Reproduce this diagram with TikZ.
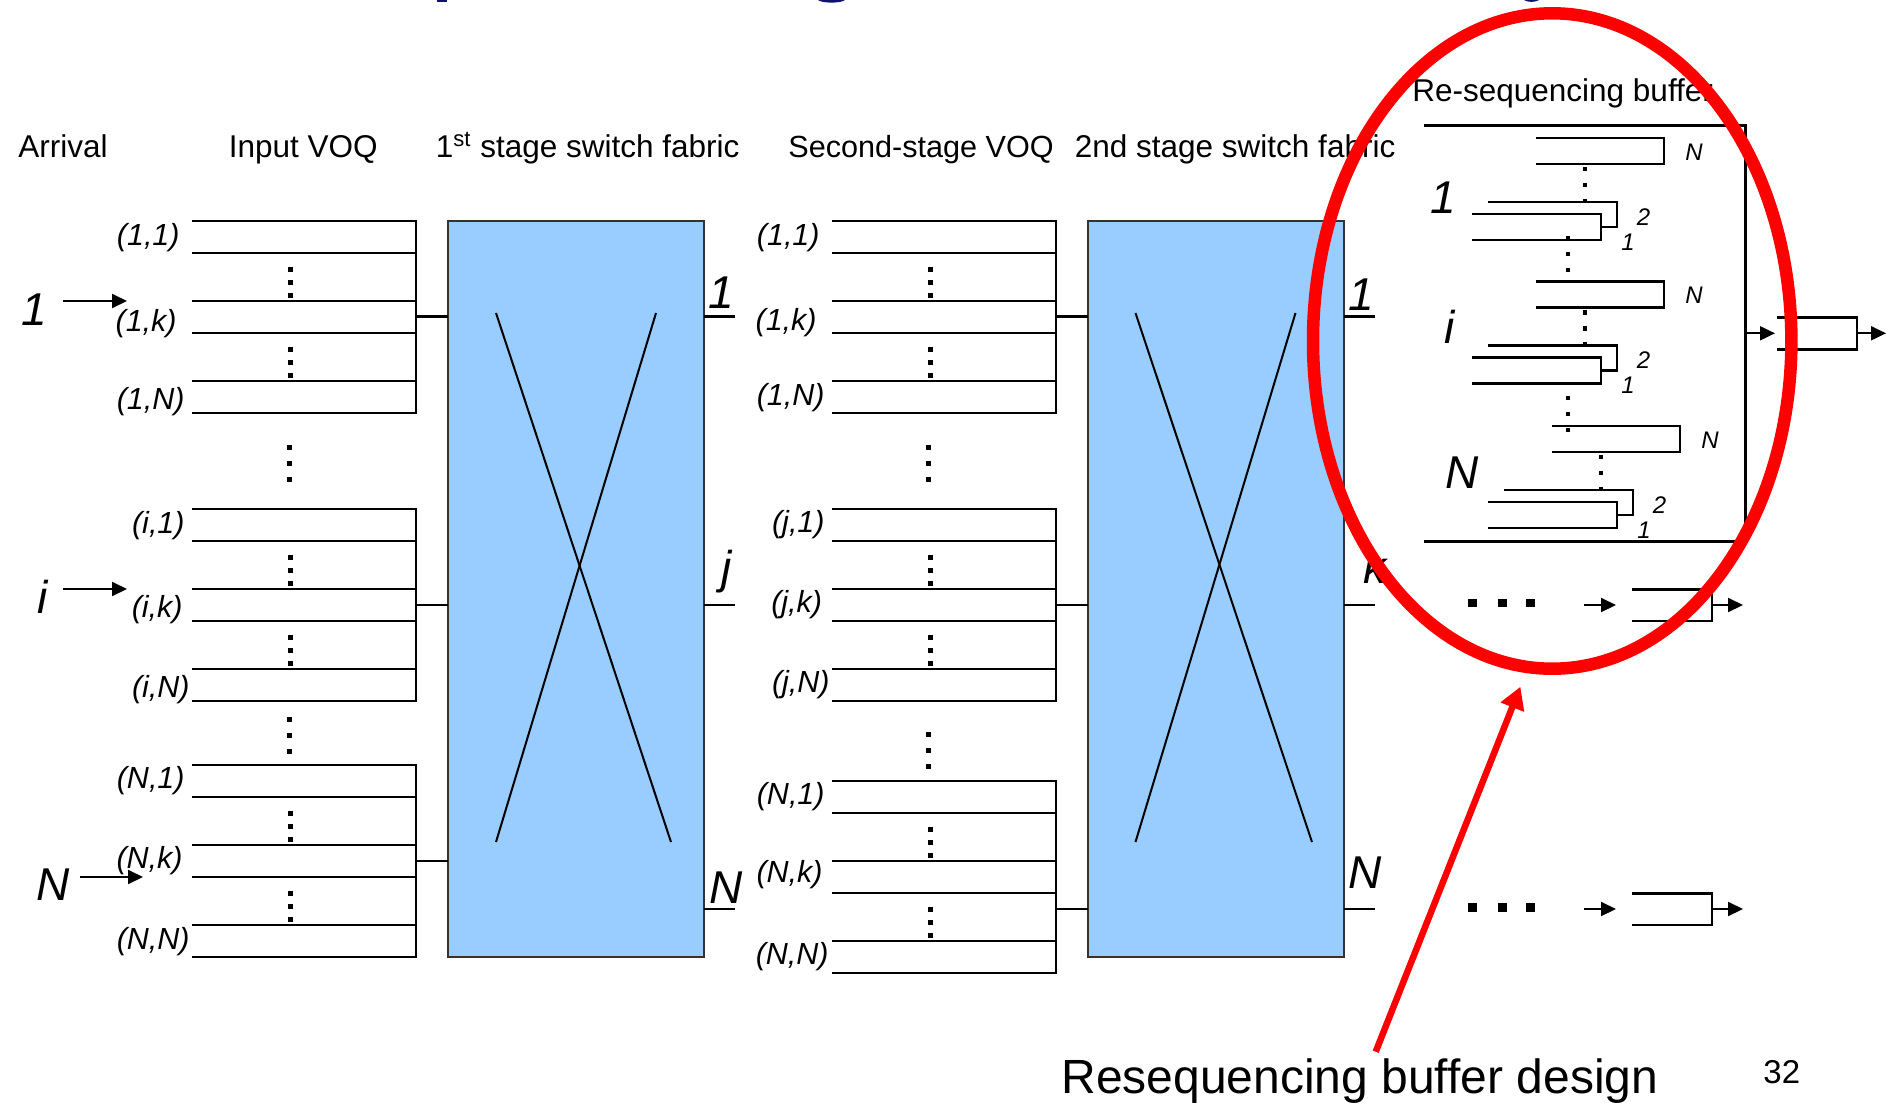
\documentclass[tikz,border=0pt]{standalone}
\usepackage{fontspec}
\setmainfont{Liberation Sans}
\usetikzlibrary{arrows.meta,shapes.geometric}
\definecolor{fabblue}{HTML}{99CCFF}
\definecolor{fabedge}{HTML}{333333}
\definecolor{ringred}{HTML}{FF0000}
\definecolor{titleblue}{HTML}{10106E}
\newcommand\txtsize[1]{\fontsize{#1pt}{#1pt}\selectfont}
% one group of three virtual output queues: left x, right x, three top y's
\newcommand\voqgroup[5]{%
  \draw[q] (#1,#3) -- (#2,#3) -- (#2,#5+32) -- (#1,#5+32);
  \draw[q] (#1,#3+32) -- (#2,#3+32) (#1,#4) -- (#2,#4)
           (#1,#4+32) -- (#2,#4+32) (#1,#5) -- (#2,#5);}
% small square dot: x, y, half size
\newcommand\sqdot[3]{\fill (#1-#3,#2-#3) rectangle (#1+#3,#2+#3);}
% three dots in a column
\newcommand\dotcol[4]{\sqdot{#1}{#2}{2.5}\sqdot{#1}{#3}{2.5}\sqdot{#1}{#4}{2.5}}
% one input group of the re-sequencing buffer, shifted by (dx,dy)
\newcommand\bufgroup[3]{%
  \draw[bq] (1536+#1,138+#2) -- (1664+#1,138+#2) -- (1664+#1,164+#2) -- (1536+#1,164+#2);
  \draw[bq] (1488+#1,202+#2) -- (1617+#1,202+#2) -- (1617+#1,227+#2) -- (1601+#1,227+#2);
  \draw[bq] (1472+#1,214+#2) -- (1601+#1,214+#2) -- (1601+#1,240+#2) -- (1472+#1,240+#2);
  \sqdot{1585+#1}{169+#2}{2.25}\sqdot{1585+#1}{185+#2}{2.25}\sqdot{1585+#1}{201+#2}{2.25}
  \node[small] (bN#3) at (1694+#1,160+#2) {N};
  \node[small] (b2#3) at (1643.5+#1,225+#2) {2};
  \node[small] (b1#3) at (1628+#1,250+#2) {1};}

\begin{document}
\begin{tikzpicture}[x=0.5pt,y=-0.5pt,
  q/.style={line width=1.4pt},
  bq/.style={line width=1.2pt},
  fab/.style={draw=fabedge, fill=fabblue, line width=1pt, inner sep=0, outer sep=0,
              anchor=north west, minimum width=128pt, minimum height=368pt},
  cross/.style={line width=1pt},
  head/.style={font=\txtsize{15.75}, inner sep=0, anchor=base west},
  lab/.style={font=\itshape\txtsize{15.25}, inner sep=0, anchor=east},
  big/.style={font=\itshape\txtsize{23}, inner sep=0, anchor=base},
  small/.style={font=\itshape\txtsize{12}, inner sep=0, anchor=base},
  feed/.style={line width=1pt, -{Triangle[length=7.5pt,width=7pt]}},
]
\useasboundingbox (0,0) rectangle (1886,1103);

% remnants of the slide title along the top edge
\fill[titleblue] (437,0) rectangle (447,1.5);
\fill[titleblue] (818,0) .. controls (822,3.5) and (841,3.5) .. (845,0) -- cycle;
\fill[titleblue] (1524,0) .. controls (1527,2.5) and (1536,2.5) .. (1539,0) -- cycle;

% column headings
\node[head] (hArr) at (18,157) {Arrival};
\node[head] (hIn) at (228.5,157) {Input VOQ};
\node[head] (hF1) at (435.5,157) {1\textsuperscript{st} stage switch fabric};
\node[head, font=\txtsize{15.3}] (hSec) at (788,157) {Second-stage VOQ};
\node[head] (hF2) at (1074.5,157) {2nd stage switch fabric};
\node[head] (hRes) at (1412,101.5) {Re-sequencing buffer};

% arrivals
\node[big] (a1) at (34,325) {1};
\node[big] (ai) at (42.5,613) {i};
\node[big] (aN) at (53.5,900) {N};
\coordinate (a1s) at (63,301);  \coordinate (a1t) at (127,301);
\coordinate (ais) at (63,589);  \coordinate (ait) at (127,589);
\coordinate (aNs) at (80,877);  \coordinate (aNt) at (143,877);
\draw[feed] (a1s) -- (a1t);
\draw[feed] (ais) -- (ait);
\draw[feed] (aNs) -- (aNt);

% input VOQs
\voqgroup{192}{416}{221}{301}{381}
\voqgroup{192}{416}{509}{589}{669}
\voqgroup{192}{416}{765}{845}{925}
\dotcol{290}{269}{282}{295} \dotcol{290}{349}{362}{375}
\dotcol{290}{557}{570}{583} \dotcol{290}{637}{650}{663}
\dotcol{290}{813}{826}{839} \dotcol{290}{893}{906}{919}
\dotcol{289}{447}{463}{479} \dotcol{289}{719}{735}{751}
\node[lab] (in11) at (180,237.5) {(1,1)};
\node[lab] (in1k) at (177,324) {(1,k)};
\node[lab] (in1N) at (185,402) {(1,N)};
\node[lab] (ini1) at (185,526) {(i,1)};
\node[lab] (inik) at (183,610) {(i,k)};
\node[lab] (iniN) at (190,690) {(i,N)};
\node[lab] (inN1) at (185,781) {(N,1)};
\node[lab] (inNk) at (183,861) {(N,k)};
\node[lab] (inNN) at (190,941.5) {(N,N)};

% first stage switch fabric
\node[fab] (fab1) at (448,221) {};
\draw[cross] (496,313) -- (671,842);
\draw[cross] (656,313) -- (496,842);
\coordinate (g1) at (416,316.5);
\coordinate (gi) at (416,605);
\coordinate (gN) at (416,861);
\draw[q] (g1) -- (g1 -| fab1.west);
\draw[q] (gi) -- (gi -| fab1.west);
\draw[q] (gN) -- (gN -| fab1.west);

% second-stage VOQs
\voqgroup{832}{1056}{221}{301}{381}
\voqgroup{832}{1056}{509}{589}{669}
\voqgroup{832}{1056}{781}{861}{941}
\dotcol{930}{269}{282}{295} \dotcol{930}{349}{362}{375}
\dotcol{930}{557}{570}{583} \dotcol{930}{637}{650}{663}
\dotcol{930}{829}{842}{855} \dotcol{930}{909}{922}{935}
\dotcol{928.5}{447}{463}{479} \dotcol{928.5}{734}{750.5}{766.5}
\node[lab] (s11) at (820,237.5) {(1,1)};
\node[lab] (s1k) at (817,322.5) {(1,k)};
\node[lab] (s1N) at (825,398) {(1,N)};
\node[lab] (sj1) at (825,525) {(j,1)};
\node[lab] (sjk) at (822.5,605) {(j,k)};
\node[lab] (sjN) at (830,685) {(j,N)};
\node[lab] (sN1) at (825,797) {(N,1)};
\node[lab] (sNk) at (823,875) {(N,k)};
\node[lab] (sNN) at (829,957) {(N,N)};

% first fabric outputs feeding the second-stage VOQs
\coordinate (o1) at (735,316.5);
\coordinate (oj) at (735,605);
\coordinate (oN) at (735,909);
\draw[q] (o1 -| fab1.east) -- (o1);
\draw[q] (oj -| fab1.east) -- (oj);
\draw[q] (oN -| fab1.east) -- (oN);
\node[big] (f1o1) at (721.5,308) {1};
\node[big] (f1oj) at (726.5,583) {j};
\node[big] (f1oN) at (726,903) {N};

% second stage switch fabric
\node[fab] (fab2) at (1087.5,221) {};
\draw[cross] (1135.5,313) -- (1312,842);
\draw[cross] (1295.5,313) -- (1135.5,842);
\coordinate (h1) at (1056,316.5);
\coordinate (hj) at (1056,605);
\coordinate (hN) at (1056,909);
\draw[q] (h1) -- (h1 -| fab2.west);
\draw[q] (hj) -- (hj -| fab2.west);
\draw[q] (hN) -- (hN -| fab2.west);

% second fabric outputs
\coordinate (p1) at (1375,316.5);
\coordinate (pk) at (1375,605);
\coordinate (pN) at (1375,909);
\draw[q] (p1 -| fab2.east) -- (p1);
\draw[q] (pk -| fab2.east) -- (pk);
\draw[q] (pN -| fab2.east) -- (pN);
\node[big] (f2o1) at (1361.5,310) {1};
\node[big] (f2ok) at (1375,583) {k};
\node[big] (f2oN) at (1365,888) {N};

% re-sequencing buffer of output 1
\draw[line width=1.5pt] (1424,125) -- (1745,125) -- (1745,541.5) -- (1424,541.5);
\bufgroup{0}{0}{a}
\bufgroup{0}{143.5}{b}
\bufgroup{16}{288}{c}
\sqdot{1568}{238}{2.25}\sqdot{1568}{254}{2.25}\sqdot{1568}{270}{2.25}
\sqdot{1568}{398}{2.25}\sqdot{1568}{414}{2.25}\sqdot{1568}{430}{2.25}
\node[big] (r1) at (1443,213) {1};
\node[big] (ri) at (1449.5,343) {i};
\node[big] (rN) at (1462,488) {N};
\coordinate (rb1) at (1745,333.3);
\coordinate (rq1) at (1775,333.3);
\draw[feed] (rb1) -- (rq1);
\draw[bq] (1776.5,317.3) -- (1857,317.3) -- (1857,349.3) -- (1776.5,349.3);
\coordinate (rq1o) at (1857,333.3);
\coordinate (rq1e) at (1886,333.3);
\draw[feed] (rq1o) -- (rq1e);

% outputs k and N
\foreach \yy/\dy/\nm in {605/603/k, 909/907.5/N}{
  \fill (1468,\dy-4.25) rectangle (1477,\dy+4.25);
  \fill (1497.5,\dy-4.25) rectangle (1506.5,\dy+4.25);
  \fill (1526,\dy-4.25) rectangle (1535,\dy+4.25);
  \coordinate (ds\nm) at (1584,\yy);
  \coordinate (dt\nm) at (1616,\yy);
  \draw[feed] (ds\nm) -- (dt\nm);
  \draw[bq] (1632,\yy-15.7) -- (1712,\yy-15.7) -- (1712,\yy+16) -- (1632,\yy+16);
  \coordinate (do\nm) at (1712,\yy);
  \coordinate (de\nm) at (1743,\yy);
  \draw[feed] (do\nm) -- (de\nm);
}

% page furniture
\node[font=\txtsize{24}, inner sep=0, anchor=base west] (caption) at (1061,1093)
  {Resequencing buffer design};
\node[font=\txtsize{16.5}, inner sep=0, anchor=base west] (pgno) at (1763,1083) {32};

% highlight ring and pointer
\node[ellipse, draw=ringred, line width=6.25pt, inner sep=0, outer sep=0,
      minimum width=239.2pt, minimum height=327.7pt] (ring) at (1552.2,341) {};
\coordinate (pfoot) at (1375.7,1051.7);
\coordinate (ptip) at (1520.4,686.7);
\draw[ringred, line width=3.25pt, -{Triangle[length=11pt,width=12pt]}] (pfoot) -- (ptip);
\end{tikzpicture}
\end{document}
